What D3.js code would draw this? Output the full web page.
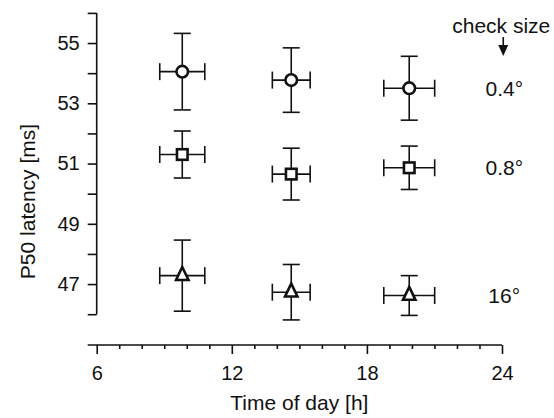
<!DOCTYPE html>
<html>
<head>
  <meta charset="utf-8">
  <title>P50 latency vs time of day</title>
  <script src="https://d3js.org/d3.v7.min.js"></script>
  <style>
    body { margin: 0; background: #fff; }
    svg { font-family: "Liberation Sans", Arial, sans-serif; }
    .axis path, .axis line { stroke: #111; stroke-width: 1.6px; }
    .axis text { font-size: 20px; fill: #111; }
    .title { font-size: 21px; fill: #111; }
    .err { stroke: #111; stroke-width: 1.6px; }
    .mark { fill: #fff; stroke: #111; stroke-width: 2.6px; }
  </style>
</head>
<body>
  <svg width="554" height="418"></svg>
  <script>
    // recording times (h) and their spread, same for every check size
    const times = [9.8, 14.64, 19.88];
    const timeErr = [1.0, 0.84, 1.13];

    const checkSizes = ["0.4°", "0.8°", "16°"];
    const shapes = ["circle", "square", "triangle"];
    const latency = [
      [54.05, 53.77, 53.5],
      [51.3, 50.65, 50.86],
      [47.28, 46.73, 46.62]
    ];
    const latencyErr = [
      [1.27, 1.07, 1.06],
      [0.78, 0.86, 0.72],
      [1.18, 0.92, 0.66]
    ];

    const yTicks = d3.range(46, 57);
    const xMajor = [6, 12, 18, 24];
    const xMinor = d3.range(7, 24).filter(d => d % 6 !== 0);

    const svg = d3.select("svg");
    const x = d3.scaleLinear().domain([6, 24]).range([96.7, 502]);
    const y = d3.scaleLinear().domain([46, 56]).range([314.2, 12.9]);
    const xAxisY = 345;

    // y axis
    const gy = svg.append("g")
      .attr("class", "axis")
      .attr("transform", `translate(${x.range()[0]},0)`)
      .call(d3.axisLeft(y).tickValues(yTicks).tickSize(9).tickPadding(8)
        .tickFormat(d => d % 2 === 1 ? d : ""));
    gy.select(".domain").attr("d", `M0,${y(46)}V${y(56)}`);

    // x axis: line starts under the y tick ends
    const gx = svg.append("g")
      .attr("class", "axis")
      .attr("transform", `translate(0,${xAxisY})`)
      .call(d3.axisBottom(x).tickValues(xMajor).tickSize(9).tickPadding(12));
    gx.select(".domain").attr("d", `M${x.range()[0] - 9},0H${x.range()[1]}`);
    gx.selectAll(".tick text").attr("dy", "0.71em");

    svg.append("g")
      .attr("class", "axis")
      .attr("transform", `translate(0,${xAxisY})`)
      .call(d3.axisBottom(x).tickValues(xMinor).tickSize(4).tickFormat(""))
      .select(".domain").remove();

    // axis titles
    svg.append("text")
      .attr("class", "title")
      .attr("text-anchor", "middle")
      .attr("x", (x.range()[0] + x.range()[1]) / 2)
      .attr("y", 410)
      .text("Time of day [h]");

    svg.append("text")
      .attr("class", "title")
      .attr("text-anchor", "middle")
      .attr("transform", `translate(35,${(y(46) + y(56)) / 2 + 38}) rotate(-90)`)
      .text("P50 latency [ms]");

    // points
    const points = [];
    latency.forEach((row, i) => {
      row.forEach((v, j) => {
        points.push({ shape: shapes[i], t: times[j], te: timeErr[j], v: v, ve: latencyErr[i][j] });
      });
    });

    const cap = 8.5;
    const pg = svg.append("g")
      .selectAll("g")
      .data(points)
      .enter().append("g");

    pg.append("line").attr("class", "err")
      .attr("x1", d => x(d.t)).attr("x2", d => x(d.t))
      .attr("y1", d => y(d.v + d.ve)).attr("y2", d => y(d.v - d.ve));
    pg.append("line").attr("class", "err")
      .attr("x1", d => x(d.t) - cap).attr("x2", d => x(d.t) + cap)
      .attr("y1", d => y(d.v + d.ve)).attr("y2", d => y(d.v + d.ve));
    pg.append("line").attr("class", "err")
      .attr("x1", d => x(d.t) - cap).attr("x2", d => x(d.t) + cap)
      .attr("y1", d => y(d.v - d.ve)).attr("y2", d => y(d.v - d.ve));
    pg.append("line").attr("class", "err")
      .attr("x1", d => x(d.t - d.te)).attr("x2", d => x(d.t + d.te))
      .attr("y1", d => y(d.v)).attr("y2", d => y(d.v));
    pg.append("line").attr("class", "err")
      .attr("x1", d => x(d.t - d.te)).attr("x2", d => x(d.t - d.te))
      .attr("y1", d => y(d.v) - cap).attr("y2", d => y(d.v) + cap);
    pg.append("line").attr("class", "err")
      .attr("x1", d => x(d.t + d.te)).attr("x2", d => x(d.t + d.te))
      .attr("y1", d => y(d.v) - cap).attr("y2", d => y(d.v) + cap);

    pg.each(function(d) {
      const el = d3.select(this);
      const cx = x(d.t), cy = y(d.v);
      if (d.shape === "circle") {
        el.append("circle").attr("class", "mark").attr("cx", cx).attr("cy", cy).attr("r", 5.8);
      } else if (d.shape === "square") {
        el.append("rect").attr("class", "mark")
          .attr("x", cx - 5.3).attr("y", cy - 5.3).attr("width", 10.6).attr("height", 10.6);
      } else {
        el.append("path").attr("class", "mark")
          .attr("d", `M${cx},${cy - 8.6}L${cx + 6.2},${cy + 4.3}L${cx - 6.2},${cy + 4.3}Z`);
      }
    });

    // check size labels, level with the last point of each row
    const labelX = x(24.1);
    svg.append("g")
      .selectAll("text")
      .data(checkSizes)
      .enter().append("text")
      .attr("class", "title")
      .attr("text-anchor", "middle")
      .attr("x", labelX)
      .attr("y", (d, i) => y(latency[i][2]))
      .attr("dy", "0.36em")
      .text(d => d);

    svg.append("text")
      .attr("class", "title")
      .attr("text-anchor", "middle")
      .attr("x", labelX - 3)
      .attr("y", 33)
      .text("check size");

    svg.append("line")
      .attr("x1", labelX - 1).attr("x2", labelX - 1)
      .attr("y1", 37).attr("y2", 47)
      .attr("stroke", "#111").attr("stroke-width", 1.6);
    svg.append("path")
      .attr("d", `M${labelX - 6},45L${labelX + 4},45L${labelX - 1},56Z`)
      .attr("fill", "#111");
  </script>
</body>
</html>
